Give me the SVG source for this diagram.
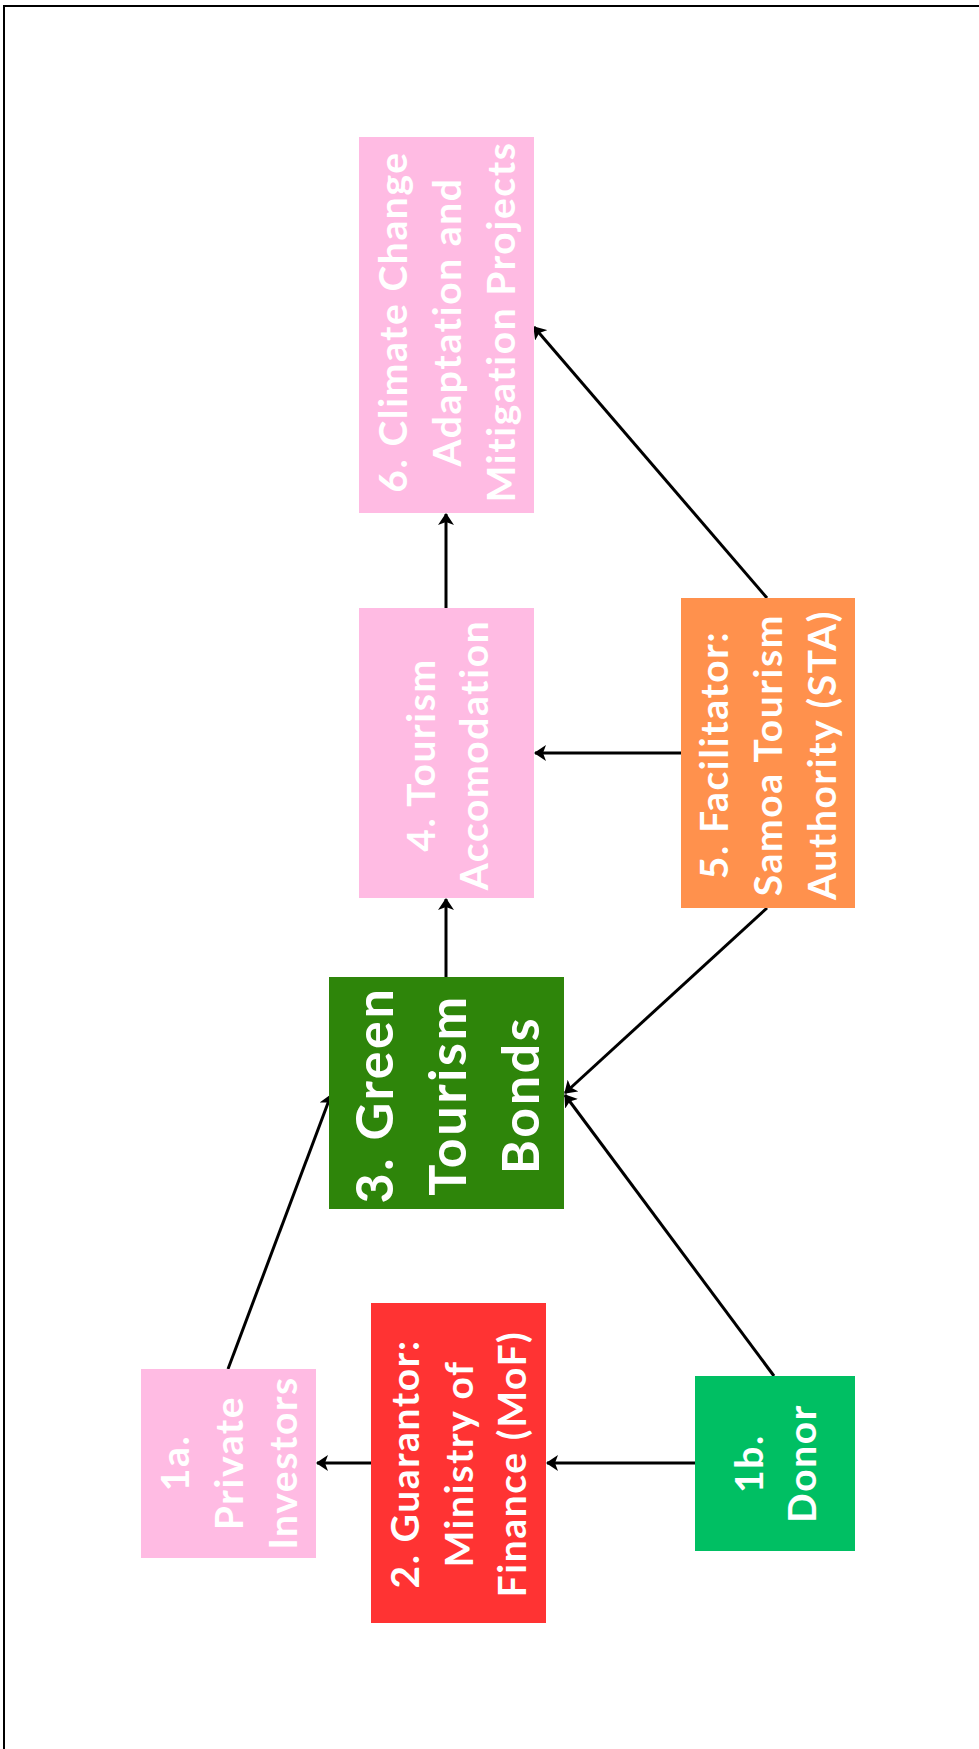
<svg xmlns="http://www.w3.org/2000/svg" width="979" height="1749" viewBox="0 0 979 1749">
<defs>
<marker id="ah" markerUnits="userSpaceOnUse" viewBox="0 0 12 16" refX="11" refY="8" markerWidth="12" markerHeight="16" orient="auto">
<path d="M0,0 L12,8 L0,16 L3,8 z" fill="#000"/>
</marker>
<style>
.t{font-family:Lato,"Open Sans","Liberation Sans",sans-serif;font-weight:700;fill:#fff;text-anchor:middle;font-size:39px;letter-spacing:1.6px}
.big{font-size:52px;letter-spacing:2.6px}
.c{stroke:#000;stroke-width:3;fill:none;marker-end:url(#ah)}
</style>
</defs>
<rect x="0" y="0" width="979" height="1749" fill="#fff"/>
<rect x="4" y="6" width="1000" height="1800" fill="none" stroke="#000" stroke-width="2"/>
<g id="connectors">
<line class="c" x1="446" y1="608" x2="446" y2="514"/>
<line class="c" x1="446" y1="977" x2="446" y2="899"/>
<line class="c" x1="681" y1="753" x2="535" y2="753"/>
<line class="c" x1="767" y1="598" x2="534" y2="327"/>
<line class="c" x1="767" y1="908" x2="565" y2="1093"/>
<line class="c" x1="774" y1="1376" x2="565" y2="1095"/>
<line class="c" x1="228" y1="1369" x2="331" y2="1095"/>
<line class="c" x1="371" y1="1463" x2="317" y2="1463"/>
<line class="c" x1="695" y1="1463" x2="547" y2="1463"/>
</g>
<g id="n6">
<rect x="359" y="137" width="175" height="376" fill="#FFBBE3"/>
<g transform="translate(447,322) rotate(-90)">
<text class="t" x="0" y="-40">6. Climate Change</text>
<text class="t" x="0" y="14">Adaptation and</text>
<text class="t" x="0" y="68">Mitigation Projects</text>
</g>
</g>
<g id="n4">
<rect x="359" y="608" width="175" height="290" fill="#FFBBE3"/>
<g transform="translate(446.5,755) rotate(-90)">
<text class="t" x="0" y="-12">4. Tourism</text>
<text class="t" x="0" y="41">Accomodation</text>
</g>
</g>
<g id="n3">
<rect x="329" y="977" width="235" height="232" fill="#2E850A"/>
<g transform="translate(446.5,1095) rotate(-90)">
<text class="t big" x="0" y="-54">3. Green</text>
<text class="t big" x="0" y="19">Tourism</text>
<text class="t big" x="0" y="92">Bonds</text>
</g>
</g>
<g id="n5">
<rect x="681" y="598" width="174" height="310" fill="#FF914D"/>
<g transform="translate(768,755) rotate(-90)">
<text class="t" x="0" y="-40">5. Facilitator:</text>
<text class="t" x="0" y="14">Samoa Tourism</text>
<text class="t" x="0" y="68">Authority (STA)</text>
</g>
</g>
<g id="n1a">
<rect x="141" y="1369" width="175" height="189" fill="#FFBBE3"/>
<g transform="translate(228.5,1463) rotate(-90)">
<text class="t" x="0" y="-40">1a.</text>
<text class="t" x="0" y="14">Private</text>
<text class="t" x="0" y="68">Investors</text>
</g>
</g>
<g id="n2">
<rect x="371" y="1303" width="175" height="320" fill="#FF3333"/>
<g transform="translate(458.5,1464) rotate(-90)">
<text class="t" x="0" y="-40">2. Guarantor:</text>
<text class="t" x="0" y="14">Ministry of</text>
<text class="t" x="0" y="67">Finance (MoF)</text>
</g>
</g>
<g id="n1b">
<rect x="695" y="1376" width="160" height="175" fill="#00BF63"/>
<g transform="translate(775,1463.5) rotate(-90)">
<text class="t" x="0" y="-12">1b.</text>
<text class="t" x="0" y="41">Donor</text>
</g>
</g>
</svg>
